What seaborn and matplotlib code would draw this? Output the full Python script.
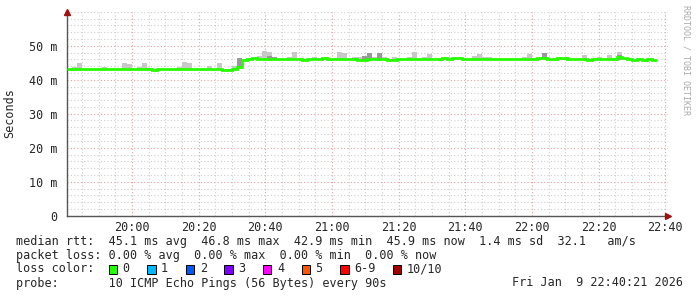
import numpy as np
import pandas as pd
import matplotlib
matplotlib.use("Agg")
import matplotlib.pyplot as plt
from matplotlib.patches import Rectangle
import seaborn as sns

# ---------------- data ----------------
start_minute = 1180.5          # 19:40:30, first sample
step_minutes = 1.5             # every 90 s

median_ms = [
    43.1, 43.1, 43.1, 43.1, 43.1, 43.1, 43.1, 43.1, 43.1, 43.1,
    43.1, 43.1, 43.1, 43.1, 43.1, 43.1, 43.1, 42.9, 43.1, 43.1,
    43.1, 43.1, 43.1, 43.1, 43.1, 43.1, 43.1, 43.1, 43.1, 43.1,
    43.1, 42.9, 42.9, 43.1, 43.7, 45.9, 46.2, 46.5, 46.2, 46.2,
    46.2, 46.2, 46.2, 46.2, 46.2, 46.2, 46.2, 45.8, 46.2, 46.2,
    46.2, 46.5, 46.2, 46.2, 46.2, 46.2, 46.2, 46.2, 45.8, 45.8,
    46.2, 46.2, 46.2, 46.2, 45.8, 45.8, 46.2, 46.2, 46.2, 46.2,
    46.2, 46.2, 46.2, 46.2, 46.2, 46.5, 46.2, 46.5, 46.5, 46.2,
    46.0, 46.2, 46.2, 46.2, 46.2, 46.2, 46.2, 46.2, 46.2, 46.2,
    46.2, 46.2, 46.2, 46.2, 46.5, 46.5, 46.2, 46.2, 46.5, 46.5,
    46.2, 46.2, 46.2, 46.2, 45.8, 46.2, 46.2, 46.2, 46.2, 46.2,
    46.8, 46.5, 46.2, 45.8, 46.2, 45.8, 46.0, 45.9,
]

light_idx = [1, 2, 7, 11, 12, 14, 15, 22, 23, 24, 28, 30, 33, 38, 39, 40, 44, 45, 49,
             54, 55, 57, 58, 61, 63, 65, 68, 69, 71, 72, 81, 82, 83, 84, 91, 92,
             103, 106, 108, 110]
light_top = [43.7, 45.0, 43.7, 45.0, 44.6, 43.7, 45.0, 43.7, 45.2, 45.0, 44.0, 45.0, 44.0,
             47.0, 48.4, 48.1, 46.7, 48.1, 46.7, 48.1, 47.9, 46.7, 46.7, 46.7, 46.7, 46.7,
             46.7, 48.1, 46.7, 47.6, 47.0, 47.6, 46.7, 46.7, 46.7, 47.6, 47.3, 46.7, 47.3, 48.1]
light_bot = [42.8, 42.8, 42.8, 42.8, 42.8, 42.8, 42.8, 42.8, 42.8, 42.8, 42.8, 42.8, 42.8,
             45.9, 45.9, 45.9, 45.9, 45.9, 45.9, 45.9, 45.9, 45.9, 45.5, 45.9, 45.9, 45.5,
             45.9, 45.9, 45.9, 45.5, 45.9, 45.9, 45.9, 45.9, 45.9, 45.9, 45.9, 45.9, 45.9, 45.9]

dark_idx = [34, 40, 41, 59, 60, 62, 95, 110]
dark_top = [46.4, 47.0, 46.6, 47.0, 47.9, 47.9, 47.9, 47.4]
dark_bot = [43.5, 46.0, 46.0, 45.8, 45.8, 45.5, 46.0, 45.9]

xtick_labels = ["20:00", "20:20", "20:40", "21:00", "21:20", "21:40", "22:00", "22:20", "22:40"]
ytick_values = [0, 10, 20, 30, 40, 50]
ytick_labels = ["0", "10 m", "20 m", "30 m", "40 m", "50 m"]

loss_labels = ["0", "1", "2", "3", "4", "5", "6-9", "10/10"]
loss_colors = ["#26ff00", "#00b8ff", "#0059ff", "#7e00ff", "#ff00ff", "#ff5500", "#ff0000", "#a10000"]

line1 = "median rtt:  45.1 ms avg  46.8 ms max  42.9 ms min  45.9 ms now  1.4 ms sd  32.1   am/s"
line2 = "packet loss: 0.00 % avg  0.00 % max  0.00 % min  0.00 % now"
line4 = "probe:       10 ICMP Echo Pings (56 Bytes) every 90s"
date_text = "Fri Jan  9 22:40:21 2026"

# ---------------- figure ----------------
sns.set_style("white")
plt.rcParams["font.family"] = ["DejaVu Sans Mono", "DejaVu Sans"]

W, H = 697, 297
fig = plt.figure(figsize=(W / 100, H / 100), dpi=100)
ax = fig.add_axes([67 / W, (H - 215.7) / H, (668 - 67) / W, 204 / H])

n = len(median_ms)
times = start_minute + step_minutes * np.arange(n)
tick_pos = [int(s[:2]) * 60 + int(s[3:]) for s in xtick_labels]

# grids
ax.set_xlim(start_minute, start_minute + 601 / (200 / 60))
ax.set_ylim(0, 60)
ax.set_xticks(tick_pos)
ax.set_xticklabels(xtick_labels)
ax.set_xticks(np.arange(1185, 1361, 5), minor=True)
ax.set_yticks(ytick_values)
ax.set_yticklabels(ytick_labels)
ax.set_yticks(np.arange(0, 60.1, 2), minor=True)
ax.grid(which="minor", color="#cfcfcf", linestyle=(0, (1, 2)), linewidth=0.8)
ax.grid(which="major", color="#e6a0a0", linestyle=(0, (1, 2)), linewidth=0.8)
ax.set_axisbelow(True)

# smoke
t = np.asarray(times)
ax.bar(t[light_idx], np.array(light_top) - np.array(light_bot), bottom=light_bot,
       width=step_minutes, align="edge", color="#c8c8c8", linewidth=0, zorder=2)
ax.bar(t[dark_idx], np.array(dark_top) - np.array(dark_bot), bottom=dark_bot,
       width=step_minutes, align="edge", color="#9a9a9a", linewidth=0, zorder=2)

# median line
df = pd.DataFrame({"t": np.append(t, t[-1] + step_minutes),
                   "rtt": np.append(median_ms, median_ms[-1])})
sns.lineplot(data=df, x="t", y="rtt", ax=ax, drawstyle="steps-post",
             color="#26ff00", linewidth=2.0, zorder=3,
             solid_capstyle="butt", solid_joinstyle="miter")

ax.set_xlabel("")
ax.set_ylabel("")
fig.text(10 / W, 1 - 113 / H, "Seconds", rotation=90, fontsize=8.5,
         ha="center", va="center")
for s in ["top", "right"]:
    ax.spines[s].set_visible(False)
for s in ["left", "bottom"]:
    ax.spines[s].set_color("#555555")
    ax.spines[s].set_linewidth(1.0)
ax.tick_params(axis="x", which="major", length=4, direction="inout", color="#555555",
               labelsize=8.5, pad=2)
ax.tick_params(axis="x", which="minor", length=2, direction="inout", color="#555555")
ax.tick_params(axis="y", which="both", length=0, labelsize=8.5, pad=7)

# arrows
ax.plot([1.0], [0], marker=">", color="#a01010", markersize=4, transform=ax.transAxes,
        clip_on=False, zorder=5)
ax.plot([0], [1.0], marker="^", color="#a01010", markersize=4, transform=ax.transAxes,
        clip_on=False, zorder=5)

# vertical credit
fig.text(686 / W, 1 - 60 / H, "RRDTOOL / TOBI OETIKER", rotation=270, fontsize=6,
         color="#aaaaaa", ha="center", va="center")

# legend lines
fs = 8.5
cw = 0.602 * fs * 100 / 72
fig.text(16 / W, 1 - 241 / H, line1, fontsize=fs, va="center", ha="left")
fig.text(16 / W, 1 - 255 / H, line2, fontsize=fs, va="center", ha="left")
fig.text(16 / W, 1 - 269 / H, "loss color:", fontsize=fs, va="center", ha="left")
fig.text(16 / W, 1 - 283 / H, line4, fontsize=fs, va="center", ha="left")
fig.text(683 / W, 1 - 283 / H, date_text, fontsize=fs, va="center", ha="right")

bx = 108.5
yrow = 269
for lab, col in zip(loss_labels, loss_colors):
    fig.patches.append(Rectangle((bx / W, 1 - (yrow + 4.5) / H), 8.5 / W, 9 / H,
                                 transform=fig.transFigure, facecolor=col,
                                 edgecolor="black", linewidth=0.7))
    tx = bx + 14
    fig.text(tx / W, 1 - yrow / H, lab, fontsize=fs, va="center", ha="left")
    bx = tx + len(lab) * cw + 17.5

fig.savefig("out.png", dpi=100)
